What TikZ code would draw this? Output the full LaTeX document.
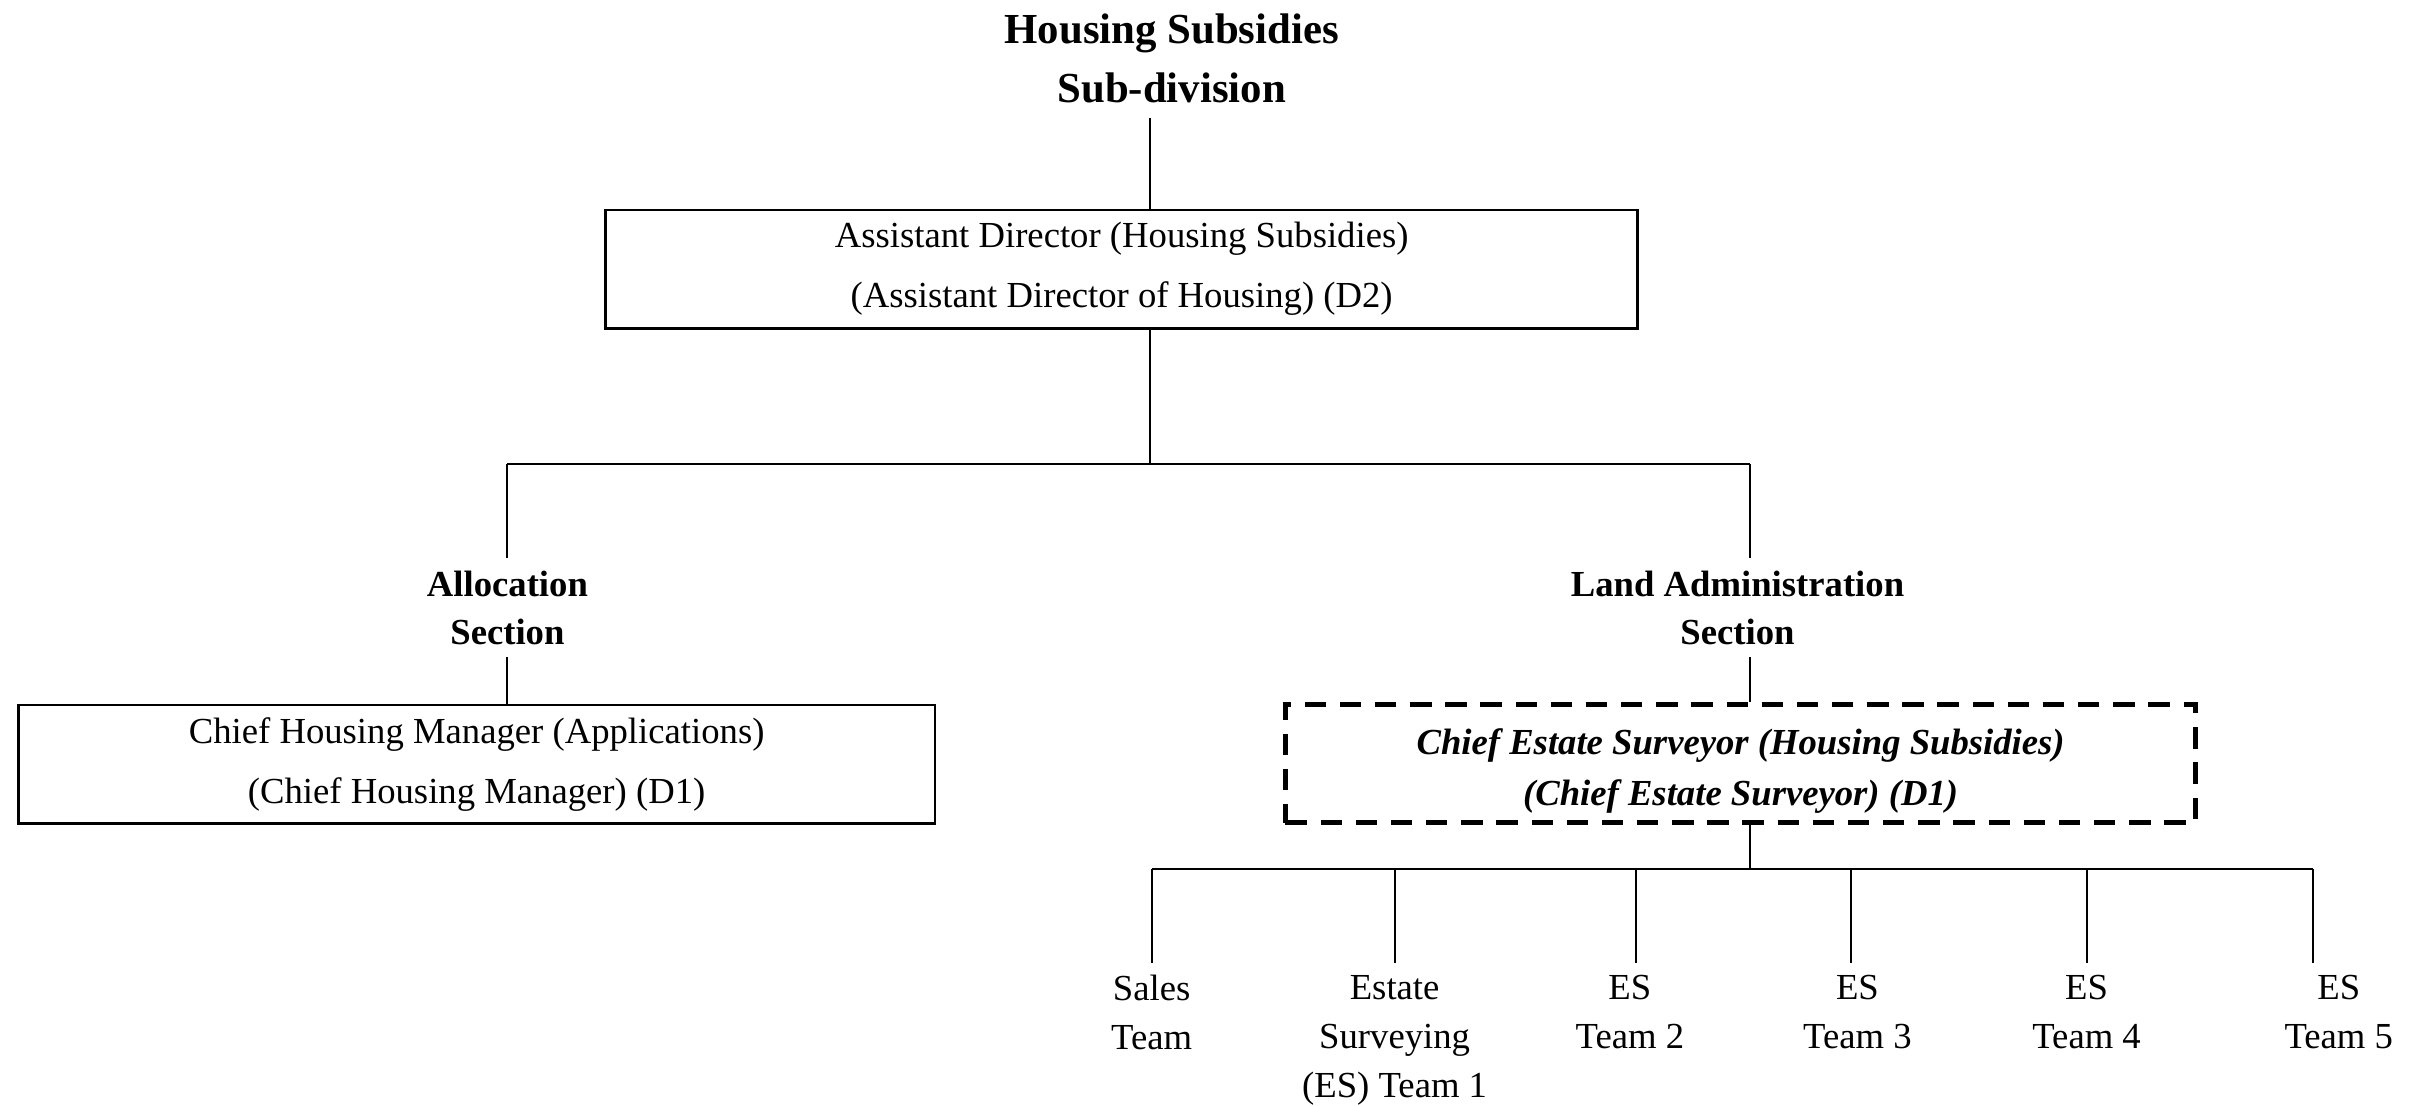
\documentclass[tikz,border=0pt]{standalone}
\usepackage{fontspec}
\setmainfont{Liberation Serif}
\definecolor{chartink}{HTML}{000000}

\begin{document}
\begin{tikzpicture}[
  x=0.503pt, y=-0.503pt,
  every node/.style={font=\fontsize{12}{19.6}\selectfont, chartink, align=center},
  link/.style={chartink, line width=0.7pt},
  post/.style={draw=chartink, line width=0.9pt, inner sep=0pt, minimum height=38.7pt},
  vacant/.style={post, line width=1.6pt, dash pattern=on 7pt off 4.5pt,
                 font=\fontsize{12}{16.6}\selectfont\bfseries\itshape},
  unit/.style={font=\fontsize{12}{15.6}\selectfont\bfseries, inner sep=4pt, anchor=north},
  team/.style={font=\fontsize{12}{16}\selectfont, inner sep=4pt, anchor=north}
]
\useasboundingbox (0,0) rectangle (1568,719);

%% ==== sub-division head ============================================
\node[font=\fontsize{14}{19.6}\selectfont\bfseries] (title) at (762,38)
  {Housing Subsidies\\Sub-division};
\coordinate (titledrop) at (748,77);

\node[post, minimum width=337.5pt] (ad) at (729.5,175)
  {Assistant Director (Housing Subsidies)\\(Assistant Director of Housing) (D2)};
\draw[link] (titledrop) -- (titledrop |- ad.north);

%% ==== sections =====================================================
\coordinate (split)  at (748,302);
\coordinate (splitl) at (330,302);
\coordinate (splitr) at (1138,302);
\draw[link] (ad.south -| split) -- (split);
\draw[link] (splitl) -- (splitr);

\node[unit] (alloc)   at (330,363)  {Allocation\\Section};
\node[unit] (landadm) at (1130,363) {Land Administration\\Section};
\draw[link] (splitl) -- (splitl |- alloc.north);
\draw[link] (splitr) -- (splitr |- landadm.north);

\node[post, minimum width=299.8pt] (chm) at (310,497)
  {Chief Housing Manager (Applications)\\(Chief Housing Manager) (D1)};
\node[vacant, minimum width=297.8pt] (ces) at (1132,496.5)
  {\rule{0pt}{13.5pt}Chief Estate Surveyor (Housing Subsidies)\\(Chief Estate Surveyor) (D1)};
\draw[link] (alloc.south) -- (alloc.south |- chm.north);
\draw[link] (landadm.south -| splitr) -- (splitr |- ces.north);

%% ==== teams ========================================================
\coordinate (teambar) at (1138,565);
\draw[link] (ces.south -| teambar) -- (teambar);

\foreach \n/\lx/\tx/\txt in {1/749/749/{Sales\\Team},
                             2/907/907/{Estate\\Surveying\\(ES) Team 1},
                             3/1064/1060/{ES\\Team 2},
                             4/1204/1208/{ES\\Team 3},
                             5/1357/1357/{ES\\Team 4},
                             6/1504/1521/{ES\\Team 5}}
{
  \coordinate (drop\n) at (\lx,565);
  \node[team] (team\n) at (\tx,626) {\txt};
  \draw[link] (drop\n) -- (drop\n |- team\n.north);
}
\draw[link] (drop1) -- (drop6);

\end{tikzpicture}
\end{document}
